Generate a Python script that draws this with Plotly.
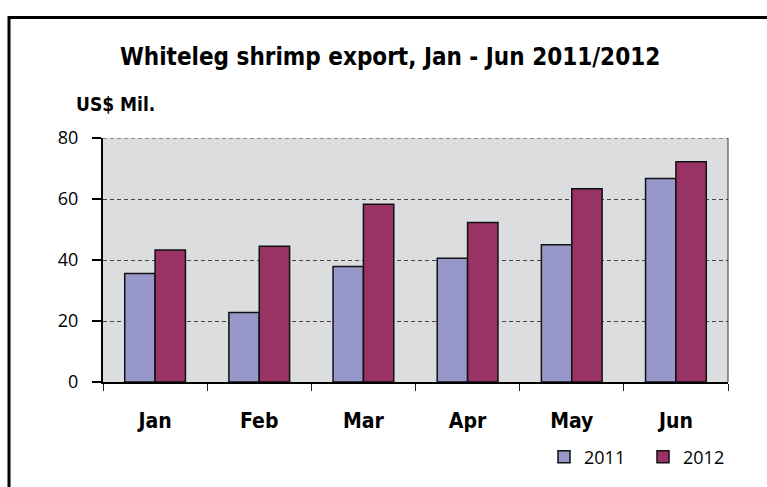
import plotly.graph_objects as go

# Monthly whiteleg shrimp export value, US$ million
months = ["Jan", "Feb", "Mar", "Apr", "May", "Jun"]
exports_2011 = [35.6, 22.8, 37.9, 40.6, 45.0, 66.7]
exports_2012 = [43.3, 44.5, 58.3, 52.3, 63.4, 72.2]
y_ticks = [0, 20, 40, 60, 80]

# plot-area geometry in pixels
W, H = 767, 487
L, R, T, B = 103, 39, 138, 99
pw, ph = W - L - R, H - T - B


def px_x(x):
    return (x - L) / pw


def px_y(y):
    return (H - B - y) / ph


fig = go.Figure()
fig.add_bar(x=months, y=exports_2011, name="2011",
            marker=dict(color="#9897C9", line=dict(color="#111111", width=1.5)))
fig.add_bar(x=months, y=exports_2012, name="2012",
            marker=dict(color="#993366", line=dict(color="#111111", width=1.5)))

bold = "DejaVu Sans Condensed, Roboto, sans-serif"
reg = "Open Sans"

fig.update_layout(
    width=W, height=H,
    margin=dict(l=L, r=R, t=T, b=B, pad=0),
    paper_bgcolor="white",
    plot_bgcolor="#DCDDDF",
    barmode="group",
    bargap=0.417,
    bargroupgap=0,
    showlegend=True,
    legend=dict(orientation="h", x=px_x(544), y=px_y(465), xanchor="left", yanchor="middle",
                font=dict(family=reg, size=18, color="black"),
                bgcolor="rgba(0,0,0,0)", traceorder="normal",
                entrywidth=54, entrywidthmode="pixels"),
    xaxis=dict(type="category", showline=True, linecolor="black", linewidth=2,
               ticks="outside", tickson="boundaries", ticklen=7, tickwidth=1, tickcolor="#222",
               tickfont=dict(family=bold, size=21, color="black", weight="bold"),
               ticklabelstandoff=19, showgrid=False),
    yaxis=dict(range=[0, 80], tickvals=y_ticks, showline=True, linecolor="black", linewidth=2,
               ticks="outside", ticklen=9, tickwidth=2, tickcolor="black",
               tickfont=dict(family=reg, size=18, color="black"),
               ticklabelstandoff=10,
               showgrid=True, gridcolor="#444444", gridwidth=1, griddash="4px,3px",
               zeroline=False),
    annotations=[
        dict(text="Whiteleg shrimp export, Jan - Jun 2011/2012", xref="paper", yref="paper",
             x=px_x(390), y=px_y(55), xanchor="center", yanchor="middle", showarrow=False,
             font=dict(family=bold, size=24, color="black", weight="bold")),
        dict(text="US$ Mil.", xref="paper", yref="paper",
             x=px_x(74), y=px_y(103), xanchor="left", yanchor="middle", showarrow=False,
             font=dict(family=bold, size=19, color="black", weight="bold")),
    ],
    shapes=[
        # right edge of the plot area
        dict(type="line", xref="paper", yref="paper", x0=1, x1=1, y0=0, y1=1,
             line=dict(color="#333333", width=1)),
        # dashed top gridline at 80
        dict(type="line", xref="paper", yref="y", x0=0, x1=1, y0=80, y1=80,
             line=dict(color="#444444", width=1, dash="4px,3px")),
        # outer frame around the chart
        dict(type="rect", xref="paper", yref="paper",
             x0=px_x(9), x1=px_x(790), y0=px_y(14.5), y1=px_y(510),
             line=dict(color="black", width=3)),
    ],
)

fig.write_html("out.html")
